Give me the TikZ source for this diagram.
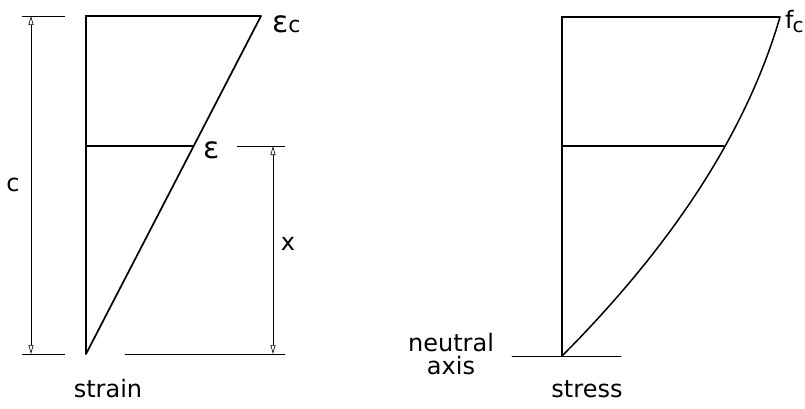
\documentclass[tikz,border=0pt]{standalone}
\usepackage{fontspec}
\setmainfont{DejaVu Sans}
\usetikzlibrary{arrows.meta}
\begin{document}
\begin{tikzpicture}[x=1pt,y=-1pt,
  main/.style={line width=1.3pt,line cap=round},
  dimline/.style={line width=0.6pt},
  dimarrow/.style={line width=0.6pt,{Triangle[open,length=9pt,width=5pt]}-{Triangle[open,length=9pt,width=5pt]}},
  lbl/.style={inner sep=0pt,font=\fontsize{24}{24}\selectfont},
  eps/.style={inner sep=0pt,font=\fontsize{30}{30}\selectfont}]
\useasboundingbox (0,0) rectangle (805,409);
% ---------- strain diagram ----------
\coordinate (sA) at (86,16);
\coordinate (sB) at (261,16);
\coordinate (sC) at (86,146);
\coordinate (sD) at (193,146);
\coordinate (sO) at (86,354);
\draw[main] (sO) -- (sA) -- (sB);
\draw[main,line width=1.7pt] (sB) -- (sO);
\draw[main] (sC) -- (sD);
% c dimension
\coordinate (cT1) at (22,16);  \coordinate (cT2) at (65,16);
\coordinate (cB1) at (22,354); \coordinate (cB2) at (65,354);
\coordinate (cTop) at (31,16); \coordinate (cBot) at (31,354);
\draw[dimline] (cT1) -- (cT2);
\draw[dimline] (cB1) -- (cB2);
\draw[dimarrow] (cTop) -- (cBot);
\node[lbl] (clab) at (13,185) {c};
% x dimension
\coordinate (xT1) at (237,146); \coordinate (xT2) at (285,146);
\coordinate (xB1) at (125,354); \coordinate (xB2) at (285,354);
\coordinate (xTop) at (273,146); \coordinate (xBot) at (273,354);
\draw[dimline] (xT1) -- (xT2);
\draw[main,line width=0.9pt] (xB1) -- (xB2);
\draw[dimarrow] (xTop) -- (xBot);
\node[lbl] (xlab) at (288,244) {x};
% labels
\node[eps,anchor=base west] (epsc) at (272,33) {ε{\fontsize{22}{22}\selectfont c}};
\node[eps,anchor=base west] (epsm) at (203,158) {ε};
\node[lbl,anchor=base] (strain) at (108,397) {strain};
% ---------- stress diagram ----------
\coordinate (tA) at (562,17);
\coordinate (tB) at (780,17);
\coordinate (tC) at (562,146);
\coordinate (tD) at (724,146);
\coordinate (tO) at (562,356);
\coordinate (nL) at (512,356);
\coordinate (nR) at (621,356);
\draw[main] (tO) -- (tA) -- (tB);
\draw[main] (tC) -- (tD);
\draw[main,line width=1.5pt] (tO) .. controls (674.5,243) and (747.1,130) .. (tB);
\draw[main,line width=0.9pt] (nL) -- (nR);
\node[lbl,anchor=base west] (fc) at (785,29) {f\hspace{-1pt}\raisebox{-4pt}{\fontsize{20}{20}\selectfont c}};
\node[lbl,align=center,font=\fontsize{24}{23}\selectfont] (na) at (451,354) {neutral\\axis};
\node[lbl,anchor=base] (stress) at (587,397) {stress};
\end{tikzpicture}
\end{document}
